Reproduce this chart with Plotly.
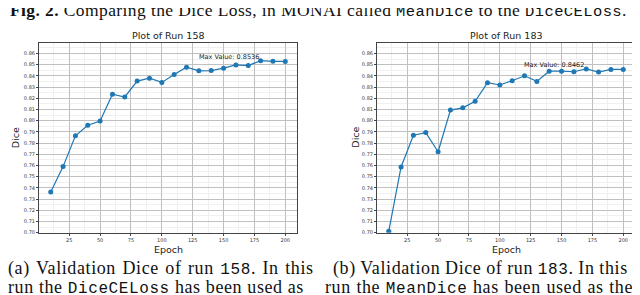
import plotly.graph_objects as go

epochs = [10, 20, 30, 40, 50, 60, 70, 80, 90, 100, 110, 120, 130, 140, 150, 160, 170, 180, 190, 200]
dice_158 = [0.7363, 0.7590, 0.7865, 0.7960, 0.7997, 0.8236, 0.8212, 0.8354, 0.8380, 0.8342,
            0.8413, 0.8478, 0.8445, 0.8448, 0.8469, 0.8498, 0.8492, 0.8536, 0.8530, 0.8529]
dice_183 = [0.7012, 0.7587, 0.7870, 0.7894, 0.7723, 0.8095, 0.8115, 0.8174, 0.8339, 0.8319,
            0.8357, 0.8401, 0.8351, 0.8442, 0.8442, 0.8437, 0.8462, 0.8434, 0.8458, 0.8458]
y_ticks = [0.70, 0.71, 0.72, 0.73, 0.74, 0.75, 0.76, 0.77, 0.78, 0.79, 0.80, 0.81, 0.82, 0.83, 0.84, 0.85, 0.86]
x_ticks = [25, 50, 75, 100, 125, 150, 175, 200]
titles = ["Plot of Run 158", "Plot of Run 183"]
max_labels = ["Max Value: 0.8536", "Max Value: 0.8462"]
max_points = [(180, 0.8536), (170, 0.8462)]

W, H = 640, 295
BLUE = "#1f77b4"
SANS = "DejaVu Sans"
SERIF = "Liberation Serif"
MONO = "Liberation Mono"

fig = go.Figure()
for i, vals in enumerate([dice_158, dice_183]):
    s = "" if i == 0 else "2"
    fig.add_trace(go.Scatter(x=epochs, y=vals, mode="lines+markers",
                             line=dict(color=BLUE, width=1.2),
                             marker=dict(color=BLUE, size=5),
                             xaxis="x" + s, yaxis="y" + s, showlegend=False))

xd = [[31 / W, 289 / W], [369 / W, 627 / W]]
yd = [(H - 227) / H, (H - 35) / H]

axis_common = dict(showline=True, mirror=True, linecolor="#444", linewidth=1,
                   showgrid=True, gridcolor="#c0c0c0", gridwidth=1,
                   ticks="outside", ticklen=2, tickcolor="#444",
                   tickfont=dict(family=SANS, size=5, color="#333"), zeroline=False)

layout = dict(width=W, height=H, margin=dict(l=0, r=0, t=0, b=0),
              plot_bgcolor="white", paper_bgcolor="white", showlegend=False)
for i in range(2):
    s = "" if i == 0 else "2"
    layout["xaxis" + s] = dict(domain=xd[i], range=[0.5, 209.5], tickvals=x_ticks,
                               minor=dict(dtick=12.5, tick0=0, showgrid=True, gridcolor="#f0f0f0", ticks=""),
                               anchor="y" + s, **axis_common)
    layout["yaxis" + s] = dict(domain=yd, range=[0.70, 0.8697], tickvals=y_ticks,
                               ticktext=[f"{v:.2f}" for v in y_ticks],
                               minor=dict(dtick=0.005, tick0=0.7, showgrid=True, gridcolor="#f0f0f0", ticks=""),
                               anchor="x" + s, **axis_common)
fig.update_layout(**layout)

ann = []
for i in range(2):
    s = "" if i == 0 else "2"
    cx = (xd[i][0] + xd[i][1]) / 2
    ann.append(dict(text=titles[i], x=cx, y=1 - 28 / H, xref="paper", yref="paper",
                    xanchor="center", yanchor="middle", showarrow=False,
                    font=dict(family=SANS, size=9.5, color="#222")))
    ann.append(dict(text="Epoch", x=cx, y=1 - 243.5 / H, xref="paper", yref="paper",
                    xanchor="center", yanchor="middle", showarrow=False,
                    font=dict(family=SANS, size=9.5, color="#222")))
    lx = [7.5, 348][i]
    ann.append(dict(text="Dice", x=lx / W, y=1 - 131 / H, xref="paper", yref="paper",
                    xanchor="center", yanchor="middle", textangle=-90, showarrow=False,
                    font=dict(family=SANS, size=9.5, color="#222")))
    mx, my = max_points[i]
    ann.append(dict(text=max_labels[i], x=mx, y=my, xref="x" + s, yref="y" + s,
                    xanchor="right", yanchor="bottom", showarrow=False, yshift=-2,
                    font=dict(family=SANS, size=6.5, color="#222")))

def mono(t, size=16):
    return f'<span style="font-family:{MONO};font-size:{size}px">{t}</span>'

def spaced(t, ls, ws):
    return f'<span style="letter-spacing:{ls}px;word-spacing:{ws}px">{t}</span>'

top = spaced("<b>Fig. 2.</b> Comparing the Dice Loss, in MONAI called " + mono("MeanDice", 15.5) + " to the " + mono("DiceCELoss", 15.5) + ".", 0.4, 0)
ann.append(dict(text=top, x=0, y=1 - 3 / H, xref="paper", yref="paper", xanchor="left", yanchor="middle",
                align="left", showarrow=False, font=dict(family=SERIF, size=17.5, color="#111")))

caps = [
    (-2, 263, 1.4, "(a) Validation Dice of run " + mono("158") + ". In this"),
    (-2, 282, 0.0, "run the " + mono("DiceCELoss") + " has been used as"),
    (323, 263, -0.3, "(b) Validation Dice of run " + mono("183") + ". In this"),
    (315, 282, 0.5, "run the " + mono("MeanDice") + " has been used as the"),
]
for x0, yc, ws, t in caps:
    ann.append(dict(text=spaced(t, 0.6, ws), x=x0 / W, y=1 - yc / H, xref="paper", yref="paper", xanchor="left",
                    yanchor="middle", align="left", showarrow=False, font=dict(family=SERIF, size=18, color="#111")))

fig.update_layout(annotations=ann)
fig.write_html("out.html")
